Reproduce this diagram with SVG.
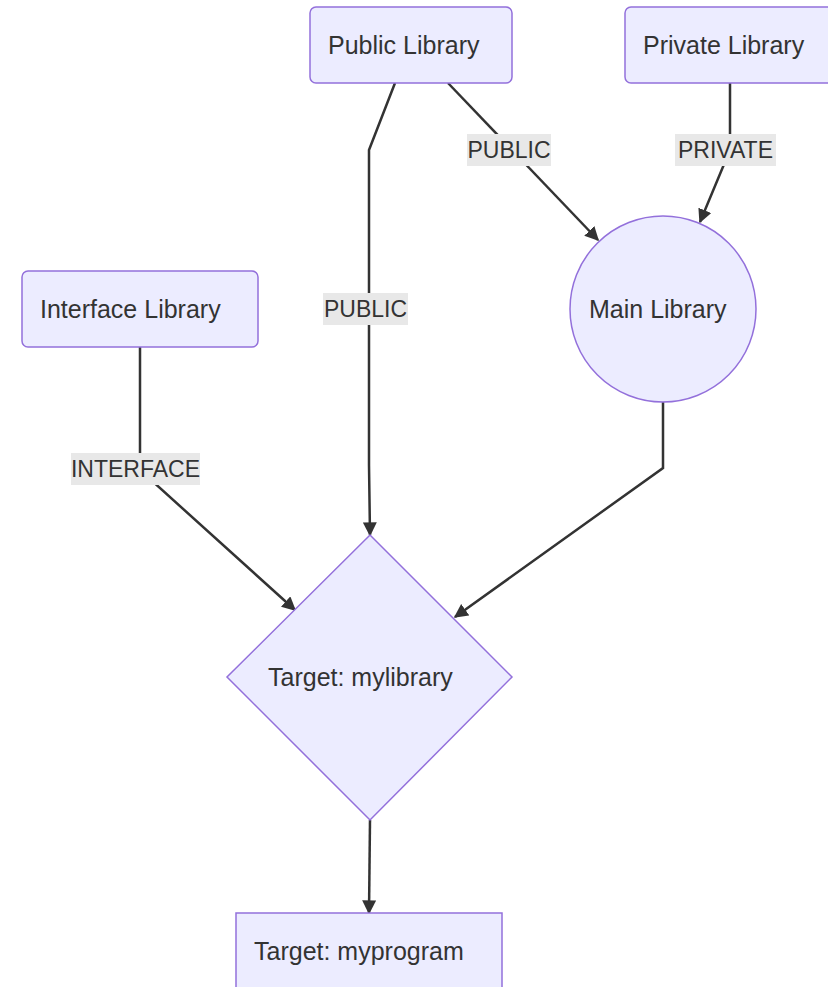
<svg xmlns="http://www.w3.org/2000/svg" width="828" height="987" viewBox="0 0 828 987">
<defs>
<marker id="arrow" viewBox="0 0 10 10" refX="9" refY="5" markerWidth="14" markerHeight="14" markerUnits="userSpaceOnUse" orient="auto">
<path d="M0,0 L10,5 L0,10 z" fill="#333333"/>
</marker>
<style>
.node{fill:#ECECFF;stroke:#9370DB;stroke-width:1.5}
.lbl{font-family:"Liberation Sans",Arial,sans-serif;font-size:25px;fill:#333333}
.edge{fill:none;stroke:#333333;stroke-width:2.5;marker-end:url(#arrow)}
.ebg{fill:#E8E8E8}
.elbl{font-family:"Liberation Sans",Arial,sans-serif;font-size:23px;fill:#333333;text-anchor:middle}
</style>
</defs>
<rect width="828" height="987" fill="#ffffff"/>
<g id="edges">
<path class="edge" d="M395,83 L369,150 L369,465 L370,535"/>
<path class="edge" d="M448,83 L598,240"/>
<path class="edge" d="M730,83 L730,150 L700,222"/>
<path class="edge" d="M140,347 L140,470 L295,610"/>
<path class="edge" d="M663,402 L663,468 L455,617"/>
<path class="edge" d="M370,820 L369,913"/>
</g>
<g id="edge-labels">
<rect class="ebg" x="467" y="134" width="84" height="32"/>
<text class="elbl" x="509" y="158">PUBLIC</text>
<rect class="ebg" x="675" y="134" width="101" height="32"/>
<text class="elbl" x="725.5" y="158">PRIVATE</text>
<rect class="ebg" x="323" y="293" width="85" height="32"/>
<text class="elbl" x="365.5" y="317">PUBLIC</text>
<rect class="ebg" x="71" y="453" width="129" height="32"/>
<text class="elbl" x="135.5" y="477">INTERFACE</text>
</g>
<g id="public-library">
<rect class="node" x="310" y="7" width="202" height="76" rx="6"/>
<text class="lbl" x="328" y="54">Public Library</text>
</g>
<g id="private-library">
<rect class="node" x="625" y="7" width="210" height="76" rx="6"/>
<text class="lbl" x="643" y="54">Private Library</text>
</g>
<g id="interface-library">
<rect class="node" x="22" y="271" width="236" height="76" rx="6"/>
<text class="lbl" x="40" y="318">Interface Library</text>
</g>
<g id="main-library">
<circle class="node" cx="663" cy="309" r="93"/>
<text class="lbl" x="589" y="318">Main Library</text>
</g>
<g id="target-mylibrary">
<polygon class="node" points="370,535 512,677 370,820 227,677"/>
<text class="lbl" x="268" y="686">Target: mylibrary</text>
</g>
<g id="target-myprogram">
<rect class="node" x="236" y="913" width="266" height="90"/>
<text class="lbl" x="254" y="960">Target: myprogram</text>
</g>
</svg>
